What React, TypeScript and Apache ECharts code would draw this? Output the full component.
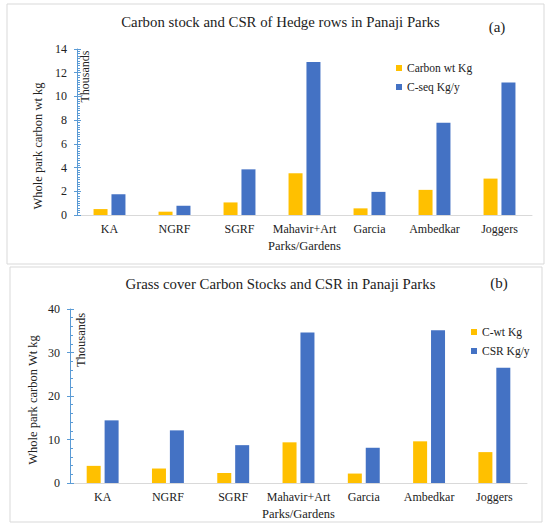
import React, { useEffect, useRef } from "react";
import * as echarts from "echarts";

const categories = ["KA", "NGRF", "SGRF", "Mahavir+Art", "Garcia", "Ambedkar", "Joggers"];
const hedgeCarbonWt = [500, 280, 1060, 3520, 560, 2120, 3070];
const hedgeCSeq = [1750, 780, 3850, 12900, 1950, 7770, 11170];
const grassCWt = [3940, 3330, 2300, 9350, 2170, 9580, 7100];
const grassCSR = [14400, 12100, 8700, 34600, 8100, 35100, 26500];
const hedgeTicks = { min: 0, max: 14000, interval: 2000 };
const grassTicks = { min: 0, max: 40000, interval: 10000 };

const FONT = "Liberation Serif";
const YELLOW = "#FFC000";
const BLUE = "#4472C4";
const AXIS_BLUE = "#5B9BD5";
const TXT = "#222222";

export default function App() {
  const ref = useRef<HTMLDivElement>(null);
  useEffect(() => {
    if (!ref.current) return;
    const chart = echarts.init(ref.current, undefined, { renderer: "svg" });
    const yMain = (gridIndex: number, ticks: object) => ({
      type: "value",
      gridIndex,
      position: "left",
      ...ticks,
      axisLine: { show: true, lineStyle: { color: AXIS_BLUE, width: 1 } },
      axisTick: { show: true, inside: false, length: 3, lineStyle: { color: AXIS_BLUE } },
      minorTick: { show: false },
      splitLine: { show: false },
      axisLabel: {
        fontFamily: FONT,
        fontSize: 12,
        color: TXT,
        margin: 10,
        formatter: (v: number) => String(v / 1000),
      },
    });
    const yMinor = (gridIndex: number, ticks: object, split: number) => ({
      type: "value",
      gridIndex,
      position: "left",
      offset: 0,
      ...ticks,
      axisLine: { show: false },
      axisTick: { show: true, inside: true, length: 4, lineStyle: { color: AXIS_BLUE } },
      minorTick: { show: true, splitNumber: split, length: 3, lineStyle: { color: AXIS_BLUE } },
      splitLine: { show: false },
      axisLabel: { show: false },
    });
    const xAxisCommon = (gridIndex: number) => ({
      type: "category",
      gridIndex,
      data: categories,
      name: "Parks/Gardens",
      nameLocation: "middle",
      nameGap: 24,
      nameTextStyle: { fontFamily: FONT, fontSize: 12.5, color: TXT },
      axisLine: { lineStyle: { color: "#d9d9d9" } },
      axisTick: { show: false },
      axisLabel: { fontFamily: FONT, fontSize: 12, color: TXT, margin: 8, interval: 0 },
    });
    const legendCommon = {
      orient: "vertical",
      itemWidth: 6,
      itemHeight: 6,
      itemGap: 5,
      icon: "rect",
      textStyle: { fontFamily: FONT, fontSize: 11.5, lineHeight: 14, color: TXT },
    };
    const rotText = (text: string, x: number, y: number, size: number) => ({
      type: "text",
      x,
      y,
      rotation: Math.PI / 2,
      style: { text, font: `${size}px ${FONT}`, fill: TXT, textAlign: "center", textVerticalAlign: "middle" },
    });
    chart.setOption({
      animation: false,
      backgroundColor: "#ffffff",
      textStyle: { fontFamily: FONT, color: TXT },
      title: [
        {
          text: "Carbon stock and CSR of Hedge rows in Panaji Parks",
          left: 275.5,
          top: 9,
          textAlign: "center",
          textStyle: { fontFamily: FONT, fontSize: 14.8, fontWeight: "normal", color: TXT },
        },
        {
          text: "Grass cover Carbon Stocks and CSR in Panaji Parks",
          left: 275.5,
          top: 271,
          textAlign: "center",
          textStyle: { fontFamily: FONT, fontSize: 14.8, fontWeight: "normal", color: TXT },
        },
      ],
      legend: [
        { ...legendCommon, data: ["Carbon wt Kg", "C-seq Kg/y"], left: 391, top: 56 },
        { ...legendCommon, data: ["C-wt Kg", "CSR Kg/y"], left: 466, top: 320 },
      ],
      grid: [
        { left: 77, right: 18, top: 49, height: 166 },
        { left: 70, right: 23, top: 309, height: 174 },
      ],
      xAxis: [xAxisCommon(0), xAxisCommon(1)],
      yAxis: [
        yMain(0, hedgeTicks),
        yMain(1, grassTicks),
        yMinor(0, hedgeTicks, 10),
        yMinor(1, grassTicks, 5),
      ],
      series: [
        { name: "Carbon wt Kg", type: "bar", xAxisIndex: 0, yAxisIndex: 0, data: hedgeCarbonWt, barWidth: 14, barGap: "28%", itemStyle: { color: YELLOW } },
        { name: "C-seq Kg/y", type: "bar", xAxisIndex: 0, yAxisIndex: 0, data: hedgeCSeq, barWidth: 14, barGap: "28%", itemStyle: { color: BLUE } },
        { name: "C-wt Kg", type: "bar", xAxisIndex: 1, yAxisIndex: 1, data: grassCWt, barWidth: 14, barGap: "28%", itemStyle: { color: YELLOW } },
        { name: "CSR Kg/y", type: "bar", xAxisIndex: 1, yAxisIndex: 1, data: grassCSR, barWidth: 14, barGap: "28%", itemStyle: { color: BLUE } },
      ],
      graphic: [
        { type: "rect", shape: { x: 7, y: 4, width: 537, height: 260 }, style: { fill: "none", stroke: "#d9d9d9", lineWidth: 1 }, silent: true },
        { type: "rect", shape: { x: 10, y: 267, width: 532, height: 255 }, style: { fill: "none", stroke: "#d9d9d9", lineWidth: 1 }, silent: true },
        { type: "text", x: 497, y: 27, style: { text: "(a)", font: `15px ${FONT}`, fill: TXT, textAlign: "center", textVerticalAlign: "middle" } },
        { type: "text", x: 499, y: 283, style: { text: "(b)", font: `15px ${FONT}`, fill: TXT, textAlign: "center", textVerticalAlign: "middle" } },
        rotText("Whole park carbon wt kg", 38, 146, 12.5),
        rotText("Whole park carbon Wt kg", 33, 400, 12.5),
        rotText("Thousands", 84.5, 76.5, 12),
        rotText("Thousands", 80.5, 340, 12.5),
      ],
    });
    return () => chart.dispose();
  }, []);
  return (
    <div
      ref={ref}
      style={{ position: "fixed", left: 0, top: 0, width: 550, height: 529, background: "#fff" }}
    />
  );
}
